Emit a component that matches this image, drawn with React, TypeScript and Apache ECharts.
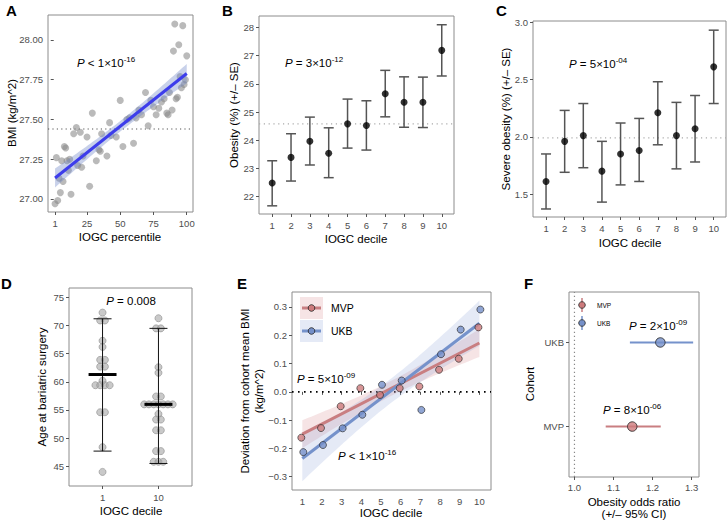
import React, { useEffect, useRef } from "react";
import * as echarts from "echarts";

const FONT = "'Liberation Sans', Arial, Helvetica, sans-serif";

// ---------- Panel A: BMI by IOGC percentile ----------
const aPercentile = [1, 3, 5, 2, 4, 7, 6, 8, 9, 10, 11, 12, 13, 15, 17, 18, 20, 21, 22, 25, 27, 29, 32, 34, 35, 36, 40, 42, 43, 47, 50, 52, 55, 57, 60, 62, 64, 66, 69, 71, 73, 75, 77, 79, 81, 83, 85, 86, 87, 89, 90, 91, 92, 93, 94, 95, 96, 97, 98, 99, 100];
const aBmi = [26.97, 26.99, 27.04, 27.26, 27.13, 27.11, 27.24, 27.33, 27.32, 27.24, 27.18, 27.25, 27.03, 27.41, 27.45, 27.21, 27.42, 27.2, 27.27, 27.39, 27.08, 27.54, 27.24, 27.31, 27.3, 27.41, 27.27, 27.48, 27.4, 27.39, 27.62, 27.33, 27.5, 27.51, 27.35, 27.51, 27.56, 27.53, 27.67, 27.46, 27.62, 27.58, 27.53, 27.57, 27.61, 27.63, 27.54, 27.53, 27.67, 27.56, 27.93, 28.1, 27.63, 27.64, 27.97, 27.77, 27.7, 28.09, 27.72, 27.75, 27.9];
const aBmiMean = 27.44;
const aTicksX = [1, 25, 50, 75, 100];
const aTicksY = [27, 27.25, 27.5, 27.75, 28];

// ---------- Panel B: Obesity by decile ----------
const deciles = [1, 2, 3, 4, 5, 6, 7, 8, 9, 10];
const obMean = [22.48, 23.39, 23.96, 23.54, 24.58, 24.52, 25.65, 25.35, 25.35, 27.19];
const obLo = [21.67, 22.55, 23.12, 22.67, 23.72, 23.65, 24.83, 24.46, 24.45, 26.28];
const obHi = [23.27, 24.23, 24.82, 24.44, 25.46, 25.4, 26.48, 26.25, 26.24, 28.1];
const obRef = 24.58;
const bTicksY = [22, 23, 24, 25, 26, 27, 28];

// ---------- Panel C: Severe obesity by decile ----------
const sevMean = [1.61, 1.96, 2.01, 1.7, 1.85, 1.88, 2.21, 2.01, 2.07, 2.61];
const sevLo = [1.37, 1.69, 1.73, 1.43, 1.58, 1.61, 1.93, 1.72, 1.78, 2.29];
const sevHi = [1.85, 2.23, 2.29, 1.96, 2.12, 2.16, 2.48, 2.3, 2.36, 2.93];
const sevRef = 1.99;
const cTicksY = [1.5, 2.0, 2.5, 3.0];

// ---------- Panel D: Age at bariatric surgery ----------
const dGroups = ["1", "10"];
const dAges1 = [72.3, 70.9, 70.9, 67.3, 66.2, 63.9, 63.9, 62.7, 62.7, 60.2, 59.4, 59.4, 59.4, 59.4, 54.6, 54.6, 48.4, 44.0];
const dAges10 = [71.3, 69.5, 69.5, 62.6, 61.6, 57.4, 57.4, 56.0, 56.0, 56.0, 56.0, 56.0, 56.0, 56.0, 54.3, 53.3, 53.3, 51.4, 51.4, 47.7, 47.7, 45.8, 45.8, 45.8];
const dMean = [61.3, 56.0];
const dLo = [47.7, 45.5];
const dHi = [71.2, 69.5];
const dTicksY = [45, 50, 55, 60, 65, 70, 75];

// ---------- Panel E: Deviation from cohort mean BMI ----------
const mvpDev = [-0.162, -0.128, -0.051, 0.013, -0.011, 0.013, 0.019, 0.078, 0.117, 0.228];
const ukbDev = [-0.213, -0.188, -0.129, -0.081, 0.025, 0.04, -0.064, 0.133, 0.22, 0.291];
const eTicksY = [-0.3, -0.2, -0.1, 0, 0.1, 0.2, 0.3];

// ---------- Panel F: Obesity odds ratio ----------
const cohorts = ["MVP", "UKB"];
const orEst = [1.148, 1.22];
const orLo = [1.08, 1.142];
const orHi = [1.221, 1.304];
const fTicksX = [1.0, 1.1, 1.2, 1.3];

const MVP_FILL = "#CD7B7C";
const MVP_LINE = "#C97E81";
const UKB_FILL = "#7590C9";
const UKB_LINE = "#7592CB";
const BORDER = "#8C8C8C";

function linFit(xs: number[], ys: number[]) {
  const n = xs.length;
  const mx = xs.reduce((s, v) => s + v, 0) / n;
  const my = ys.reduce((s, v) => s + v, 0) / n;
  let sxx = 0, sxy = 0;
  for (let i = 0; i < n; i++) {
    sxx += (xs[i] - mx) ** 2;
    sxy += (xs[i] - mx) * (ys[i] - my);
  }
  const b = sxy / sxx;
  const a = my - b * mx;
  let ssr = 0;
  for (let i = 0; i < n; i++) ssr += (ys[i] - (a + b * xs[i])) ** 2;
  const s = Math.sqrt(ssr / (n - 2));
  return {
    a, b,
    y: (x: number) => a + b * x,
    se: (x: number) => s * Math.sqrt(1 / n + (x - mx) ** 2 / sxx),
  };
}

function swarm(values: number[], center: number, step: number) {
  const counts = new Map<number, number>();
  values.forEach((v) => counts.set(v, (counts.get(v) || 0) + 1));
  const seen = new Map<number, number>();
  return values.map((v) => {
    const k = counts.get(v)!;
    const i = seen.get(v) || 0;
    seen.set(v, i + 1);
    return [center + (i - (k - 1) / 2) * step, v];
  });
}

const GRIDS = [
  { left: 48, top: 15, width: 145, height: 197 },
  { left: 259, top: 16, width: 195, height: 198 },
  { left: 533, top: 21, width: 193, height: 196 },
  { left: 69, top: 288, width: 123, height: 198 },
  { left: 292, top: 292, width: 199, height: 198 },
  { left: 569, top: 292, width: 130, height: 185 },
];

function valAxis(gi: number, min: number, max: number, ticks: number[], fmt: (v: number) => string, margin = 5) {
  return {
    type: "value",
    gridIndex: gi,
    min,
    max,
    axisLine: { show: false },
    splitLine: { show: false },
    axisTick: { show: true, length: 3, lineStyle: { color: "#555", width: 1 }, customValues: ticks },
    axisLabel: { show: true, customValues: ticks, formatter: fmt, color: "#4D4D4D", fontSize: 9.5, fontFamily: FONT, margin },
  };
}

function refLine(gi: number, pts: number[][], color: string, width: number, dash: number[]) {
  return {
    type: "line", xAxisIndex: gi, yAxisIndex: gi, data: pts, symbol: "none", silent: true,
    lineStyle: { color, width, type: dash }, z: 1, animation: false,
  };
}

function errorBars(gi: number, xs: number[], lo: number[], hi: number[], capHalf: number, color: string, width: number) {
  return {
    type: "custom", xAxisIndex: gi, yAxisIndex: gi, silent: true, z: 3,
    data: xs.map((x, i) => [x, lo[i], hi[i]]),
    encode: { x: 0, y: [1, 2] },
    renderItem: (_p: any, api: any) => {
      const x = api.value(0);
      const a = api.coord([x, api.value(1)]);
      const b = api.coord([x, api.value(2)]);
      const style = { stroke: color, lineWidth: width };
      return {
        type: "group",
        children: [
          { type: "line", shape: { x1: a[0], y1: a[1], x2: b[0], y2: b[1] }, style },
          { type: "line", shape: { x1: a[0] - capHalf, y1: a[1], x2: a[0] + capHalf, y2: a[1] }, style },
          { type: "line", shape: { x1: b[0] - capHalf, y1: b[1], x2: b[0] + capHalf, y2: b[1] }, style },
        ],
      };
    },
  };
}

function band(gi: number, fit: any, x0: number, x1: number, t: number, fill: string, z = 2) {
  return {
    type: "custom", xAxisIndex: gi, yAxisIndex: gi, silent: true, z,
    data: [[(x0 + x1) / 2, fit.y((x0 + x1) / 2)]],
    encode: { x: 0, y: 1 },
    renderItem: (_p: any, api: any) => {
      const N = 60;
      const up: number[][] = [];
      const lo: number[][] = [];
      for (let k = 0; k <= N; k++) {
        const x = x0 + ((x1 - x0) * k) / N;
        const yh = fit.y(x);
        const h = t * fit.se(x);
        up.push(api.coord([x, yh + h]));
        lo.push(api.coord([x, yh - h]));
      }
      return { type: "polygon", shape: { points: up.concat(lo.reverse()) }, style: { fill } };
    },
  };
}

function fitLine(gi: number, fit: any, x0: number, x1: number, color: string, width: number) {
  return {
    type: "line", xAxisIndex: gi, yAxisIndex: gi, silent: true, symbol: "none", z: 4,
    data: [[x0, fit.y(x0)], [x1, fit.y(x1)]],
    lineStyle: { color, width },
  };
}

function txt(x: number, y: number, text: string, o: any = {}) {
  const align = o.align || "left";
  return {
    type: "text", x, y, silent: true, rotation: o.rotation || 0, z: 100,
    style: {
      text, fontFamily: FONT, fontSize: o.fontSize || 11.5, fontWeight: o.fontWeight || "normal",
      fill: o.fill || "#000", align, textAlign: align, verticalAlign: "middle", textVerticalAlign: "middle",
      lineHeight: o.lineHeight, rich: o.rich,
    },
  };
}

const pRich = {
  i: { fontStyle: "italic", fontSize: 11.5, lineHeight: 16, fontFamily: FONT, fill: "#000", color: "#000" },
  n: { fontSize: 11.5, lineHeight: 16, fontFamily: FONT, fill: "#000", color: "#000" },
  s: { fontSize: 8, lineHeight: 9, verticalAlign: "top", fontFamily: FONT, fill: "#000", color: "#000" },
};
function pText(x: number, y: number, op: string, base: string, exp?: string, align = "left") {
  const s = exp ? `{i|P}{n| ${op} ${base}×10}{s|${exp}}` : `{i|P}{n| ${op} ${base}}`;
  return txt(x, y, s, { rich: pRich, align });
}

function buildOption() {
  const aFit = linFit(aPercentile, aBmi);
  const mvpFit = linFit(deciles, mvpDev);
  const ukbFit = linFit(deciles, ukbDev);
  const t60 = 2.0;
  const t10 = 2.306;
  const numFmt = (d: number) => (v: number) => (v < 0 ? "\u2212" + Math.abs(v).toFixed(d) : v.toFixed(d));

  const dPts = [...swarm(dAges1, 1, 0.085), ...swarm(dAges10, 2, 0.085)];

  const series: any[] = [
    // A
    {
      type: "scatter", xAxisIndex: 0, yAxisIndex: 0, symbolSize: 7, silent: true, z: 2,
      data: aPercentile.map((p, i) => [p, aBmi[i]]),
      itemStyle: { color: "rgba(135,135,135,0.72)" },
    },
    refLine(0, [[-4.3, aBmiMean], [104.7, aBmiMean]], "#555", 1.2, [1.2, 3.2]),
    band(0, aFit, 1, 100, t60, "rgba(110,135,200,0.38)", 3),
    fitLine(0, aFit, 1, 100, "#3D3DEB", 3),
    // B
    refLine(1, [[0.3, obRef], [10.65, obRef]], "#AAAAAA", 1.2, [1.2, 3.6]),
    errorBars(1, deciles, obLo, obHi, 5, "#555", 1.5),
    {
      type: "scatter", xAxisIndex: 1, yAxisIndex: 1, symbolSize: 7, silent: true, z: 5,
      data: deciles.map((d, i) => [d, obMean[i]]), itemStyle: { color: "#000" },
    },
    // C
    refLine(2, [[0.3, sevRef], [10.66, sevRef]], "#AAAAAA", 1.2, [1.2, 3.6]),
    errorBars(2, deciles, sevLo, sevHi, 5, "#555", 1.5),
    {
      type: "scatter", xAxisIndex: 2, yAxisIndex: 2, symbolSize: 7, silent: true, z: 5,
      data: deciles.map((d, i) => [d, sevMean[i]]), itemStyle: { color: "#000" },
    },
    // D
    {
      type: "scatter", xAxisIndex: 3, yAxisIndex: 3, symbolSize: 7, silent: true, z: 2,
      data: dPts, itemStyle: { color: "rgba(165,165,165,0.75)", borderColor: "#8F8F8F", borderWidth: 0.8 },
    },
    errorBars(3, [1, 2], dLo, dHi, 9, "#111", 1),
    {
      type: "custom", xAxisIndex: 3, yAxisIndex: 3, silent: true, z: 4,
      data: dMean.map((m, i) => [i + 1, m]), encode: { x: 0, y: 1 },
      renderItem: (_p: any, api: any) => {
        const a = api.coord([api.value(0) - 0.25, api.value(1)]);
        const b = api.coord([api.value(0) + 0.25, api.value(1)]);
        return { type: "line", shape: { x1: a[0], y1: a[1], x2: b[0], y2: b[1] }, style: { stroke: "#000", lineWidth: 3 } };
      },
    },
    // E
    band(4, mvpFit, 1, 10, t10, "rgba(215,130,135,0.22)", 2),
    band(4, ukbFit, 1, 10, t10, "rgba(125,150,210,0.2)", 2),
    refLine(4, [[0.476, 0], [10.59, 0]], "#000", 1.6, [1.6, 4.4]),
    fitLine(4, mvpFit, 1, 10, MVP_LINE, 3),
    fitLine(4, ukbFit, 1, 10, UKB_LINE, 3),
    {
      type: "scatter", xAxisIndex: 4, yAxisIndex: 4, symbolSize: 7, silent: true, z: 6,
      data: deciles.map((d, i) => [d - 0.05, mvpDev[i]]),
      itemStyle: { color: MVP_FILL, borderColor: "#222", borderWidth: 0.8 },
    },
    {
      type: "scatter", xAxisIndex: 4, yAxisIndex: 4, symbolSize: 7, silent: true, z: 6,
      data: deciles.map((d, i) => [d + 0.05, ukbDev[i]]),
      itemStyle: { color: UKB_FILL, borderColor: "#222", borderWidth: 0.8 },
    },
    // F
    refLine(5, [[1.0, 0.4], [1.0, 2.6]], "#888", 1.2, [1.2, 2.8]),
    {
      type: "custom", xAxisIndex: 5, yAxisIndex: 5, silent: true, z: 3,
      data: cohorts.map((_c, i) => [orLo[i], i + 1, orHi[i]]), encode: { x: [0, 2], y: 1 },
      renderItem: (p: any, api: any) => {
        const a = api.coord([api.value(0), api.value(1)]);
        const b = api.coord([api.value(2), api.value(1)]);
        return {
          type: "line", shape: { x1: a[0], y1: a[1], x2: b[0], y2: b[1] },
          style: { stroke: p.dataIndex === 0 ? MVP_LINE : UKB_LINE, lineWidth: 2 },
        };
      },
    },
    {
      type: "scatter", xAxisIndex: 5, yAxisIndex: 5, symbolSize: 9.5, silent: true, z: 5,
      data: cohorts.map((_c, i) => ({
        value: [orEst[i], i + 1],
        itemStyle: { color: i === 0 ? MVP_FILL : UKB_FILL, borderColor: "#222", borderWidth: 1 },
      })),
    },
  ];

  const graphic: any[] = [
    // panel letters
    txt(6, 10, "A", { fontSize: 15, fontWeight: "bold" }),
    txt(222, 10, "B", { fontSize: 15, fontWeight: "bold" }),
    txt(496, 10, "C", { fontSize: 15, fontWeight: "bold" }),
    txt(1, 283, "D", { fontSize: 15, fontWeight: "bold" }),
    txt(237, 283, "E", { fontSize: 15, fontWeight: "bold" }),
    txt(524, 283, "F", { fontSize: 15, fontWeight: "bold" }),
    // axis titles
    txt(12, 113, "BMI (kg/m^2)", { rotation: Math.PI / 2, align: "center", fontSize: 11.5 }),
    txt(120, 237, "IOGC percentile", { align: "center", fontSize: 11.5 }),
    txt(234, 115, "Obesity (%) (+/\u2013 SE)", { rotation: Math.PI / 2, align: "center", fontSize: 11.5 }),
    txt(356, 239, "IOGC decile", { align: "center", fontSize: 11.5 }),
    txt(506, 119, "Severe obesity (%) (+/\u2013 SE)", { rotation: Math.PI / 2, align: "center", fontSize: 11.5 }),
    txt(630, 243, "IOGC decile", { align: "center", fontSize: 11.5 }),
    txt(42, 387, "Age at bariatric surgery", { rotation: Math.PI / 2, align: "center", fontSize: 11.5 }),
    txt(131, 511, "IOGC decile", { align: "center", fontSize: 11.5 }),
    txt(252, 391, "Deviation from cohort mean BMI\n(kg/m^2)", { rotation: Math.PI / 2, align: "center", fontSize: 11.5, lineHeight: 14 }),
    txt(391, 513, "IOGC decile", { align: "center", fontSize: 11.5 }),
    txt(530, 384, "Cohort", { rotation: Math.PI / 2, align: "center", fontSize: 11.5 }),
    txt(634, 502, "Obesity odds ratio", { align: "center", fontSize: 11.5 }),
    txt(634, 514, "(+/\u2013 95% CI)", { align: "center", fontSize: 11.5 }),
    // P values
    pText(77, 63, "<", "1", "-16"),
    pText(285, 63, "=", "3", "-12"),
    pText(569, 64, "=", "5", "-04"),
    pText(131, 301, "=", "0.008", undefined, "center"),
    pText(297, 379, "=", "5", "-09"),
    pText(338, 456, "<", "1", "-16"),
    pText(629, 326, "=", "2", "-09"),
    pText(603, 410, "=", "8", "-06"),
    // E legend
    { type: "rect", silent: true, z: 50, shape: { x: 300, y: 297, width: 23, height: 22 }, style: { fill: "rgba(215,130,135,0.22)" } },
    { type: "rect", silent: true, z: 50, shape: { x: 300, y: 320, width: 23, height: 22 }, style: { fill: "rgba(125,150,210,0.2)" } },
    { type: "line", silent: true, z: 51, shape: { x1: 302, y1: 308, x2: 321, y2: 308 }, style: { stroke: MVP_LINE, lineWidth: 3 } },
    { type: "line", silent: true, z: 51, shape: { x1: 302, y1: 331, x2: 321, y2: 331 }, style: { stroke: UKB_LINE, lineWidth: 3 } },
    { type: "circle", silent: true, z: 52, shape: { cx: 311.5, cy: 308, r: 3.3 }, style: { fill: MVP_FILL, stroke: "#222", lineWidth: 0.8 } },
    { type: "circle", silent: true, z: 52, shape: { cx: 311.5, cy: 331, r: 3.3 }, style: { fill: UKB_FILL, stroke: "#222", lineWidth: 0.8 } },
    txt(331, 308, "MVP", { fontSize: 10.5 }),
    txt(331, 331, "UKB", { fontSize: 10.5 }),
    // F legend
    { type: "line", silent: true, z: 51, shape: { x1: 582, y1: 298, x2: 582, y2: 312 }, style: { stroke: MVP_LINE, lineWidth: 1.5 } },
    { type: "line", silent: true, z: 51, shape: { x1: 582, y1: 316, x2: 582, y2: 330 }, style: { stroke: UKB_LINE, lineWidth: 1.5 } },
    { type: "circle", silent: true, z: 52, shape: { cx: 582, cy: 305, r: 3.3 }, style: { fill: MVP_FILL, stroke: "#222", lineWidth: 0.8 } },
    { type: "circle", silent: true, z: 52, shape: { cx: 582, cy: 323, r: 3.3 }, style: { fill: UKB_FILL, stroke: "#222", lineWidth: 0.8 } },
    txt(597, 305, "MVP", { fontSize: 6.5 }),
    txt(597, 323, "UKB", { fontSize: 6.5 }),
  ];

  return {
    animation: false,
    backgroundColor: "#fff",
    grid: GRIDS.map((g) => ({ ...g, show: true, borderColor: BORDER, borderWidth: 1, backgroundColor: "transparent" })),
    xAxis: [
      valAxis(0, -4.3, 104.7, aTicksX, (v) => String(v), 6),
      valAxis(1, 0.3, 10.65, deciles, (v) => String(v), 6),
      valAxis(2, 0.3, 10.66, deciles, (v) => String(v), 6),
      valAxis(3, 0.4, 2.6, [1, 2], (v) => dGroups[Math.round(v) - 1], 6),
      valAxis(4, 0.476, 10.59, deciles, (v) => String(v), 6),
      valAxis(5, 0.986, 1.319, fTicksX, (v) => v.toFixed(1), 5),
    ],
    yAxis: [
      valAxis(0, 26.918, 28.157, aTicksY, (v) => v.toFixed(2)),
      valAxis(1, 21.38, 28.41, bTicksY, (v) => String(v)),
      valAxis(2, 1.3, 3.01, cTicksY, (v) => v.toFixed(1)),
      valAxis(3, 41.5, 76.67, dTicksY, (v) => String(v)),
      valAxis(4, -0.347, 0.353, eTicksY, numFmt(1)),
      valAxis(5, 0.4, 2.6, [1, 2], (v) => cohorts[Math.round(v) - 1]),
    ],
    series,
    graphic,
  };
}

export default function App() {
  const ref = useRef<HTMLDivElement>(null);
  useEffect(() => {
    const chart = echarts.init(ref.current!, null, { renderer: "svg" });
    chart.setOption(buildOption() as any);
    return () => chart.dispose();
  }, []);
  return (
    <div
      ref={ref}
      style={{ position: "absolute", left: 0, top: 0, width: 727, height: 521, background: "#fff" }}
    />
  );
}
